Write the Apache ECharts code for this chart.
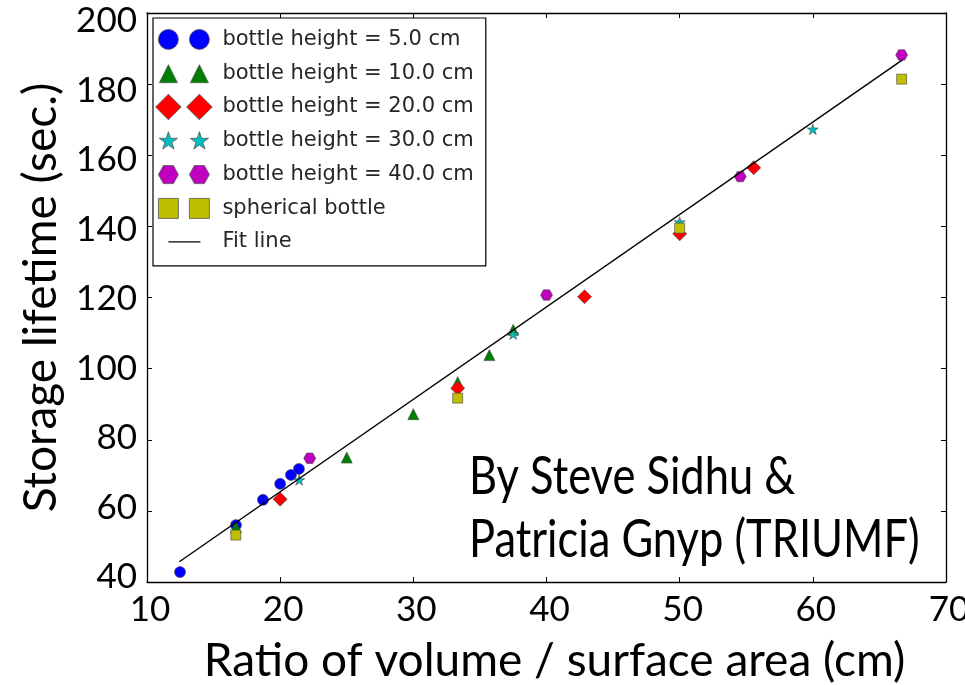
<!DOCTYPE html>
<html>
<head>
<meta charset="utf-8">
<script src="https://cdn.jsdelivr.net/npm/echarts@6/dist/echarts.min.js"></script>
<style>
  html, body { margin: 0; padding: 0; background: #fff; }
  #chart { width: 965px; height: 685px; }
</style>
</head>
<body>
<div id="chart"></div>
<script>
// Axis ranges and ticks
const xMin = 10, xMax = 70, xStep = 10;
const yMin = 40, yMax = 200, yStep = 20;
const yTickLabels = [40, 60, 80, 100, 120, 140, 160, 180, 200];
// The y tick labels were set a little tighter than the tick marks
const yLabelMin = 38.56, yLabelMax = 202.3;

// Measured storage lifetimes [ratio V/A (cm), lifetime (s)]
const height5cm  = [[12.48, 42.8], [16.68, 56.0], [18.71, 63.1], [20.0, 67.6], [20.81, 70.1], [21.41, 71.8]];
const height10cm = [[16.68, 55.4], [25.0, 75.0], [30.0, 87.2], [33.33, 96.2], [35.71, 103.8], [37.5, 110.9]];
const height20cm = [[20.0, 63.3], [33.33, 94.5], [42.86, 120.2], [50.0, 137.9], [55.56, 156.5]];
const height30cm = [[21.43, 68.7], [37.5, 109.7], [50.0, 141.2], [60.0, 167.3]];
const height40cm = [[22.22, 74.8], [40.0, 120.7], [54.55, 154.0], [66.67, 188.2]];
const spherical  = [[16.67, 53.2], [33.33, 91.7], [50.0, 139.5], [66.67, 181.4]];
// Linear fit end points
const fitLine = [[12.43, 45.7], [66.73, 186.8]];

const seriesNames = [
  'bottle height = 5.0 cm',
  'bottle height = 10.0 cm',
  'bottle height = 20.0 cm',
  'bottle height = 30.0 cm',
  'bottle height = 40.0 cm',
  'spherical bottle',
  'Fit line'
];

// Unit marker outlines (centred on 0,0)
const starPts = (function () {
  const pts = [];
  for (let i = 0; i < 10; i++) {
    const r = i % 2 === 0 ? 1 : 0.381966;
    const a = (-90 + i * 36) * Math.PI / 180;
    pts.push([r * Math.cos(a), r * Math.sin(a)]);
  }
  return pts;
})();
const shapes = {
  triangle: [[0, -1], [1, 1], [-1, 1]],
  diamond: [[0, -1], [1, 0], [0, 1], [-1, 0]],
  square: [[-1, -1], [1, -1], [1, 1], [-1, 1]],
  hexagon: [[-1, 0], [-0.5, -0.866], [0.5, -0.866], [1, 0], [0.5, 0.866], [-0.5, 0.866]],
  star: starPts
};
function poly(pts, cx, cy, sx, sy) {
  return 'M' + pts.map(p => (cx + p[0] * sx).toFixed(2) + ',' + (cy + p[1] * sy).toFixed(2)).join(' L') + ' Z ';
}
function circ(cx, cy, r) {
  return 'M' + (cx - r) + ',' + cy + ' A' + r + ',' + r + ' 0 1,0 ' + (cx + r) + ',' + cy +
         ' A' + r + ',' + r + ' 0 1,0 ' + (cx - r) + ',' + cy + ' Z ';
}
// Legend icons show the marker twice, inside a fixed 62x26 box
const IW = 62, IH = 26, C1 = 13, C2 = 44, CY = 13;
function pair(fn) { return 'path://M0,0 M' + IW + ',' + IH + ' ' + fn(C1) + fn(C2); }
const legendIcons = [
  pair(c => circ(c, CY, 10)),
  pair(c => poly(shapes.triangle, c, CY + 0.5, 9, 9)),
  pair(c => poly(shapes.diamond, c, CY, 12.8, 12.8)),
  pair(c => poly(shapes.star, c, CY + 0.5, 9.6, 9.6)),
  pair(c => poly(shapes.hexagon, c, CY, 10, 10.4)),
  pair(c => poly(shapes.square, c, CY, 10, 10)),
  'path://M0,0 M' + IW + ',' + IH + ' M13,12.35 L45,12.35 L45,13.65 L13,13.65 Z'
];

const colors = ['#0000ff', '#008000', '#ff0000', '#00bfbf', '#bf00bf', '#bfbf00', '#000000'];
const datasets = [height5cm, height10cm, height20cm, height30cm, height40cm, spherical];
const markerSymbols = [
  'circle',
  'path://' + poly(shapes.triangle, 0, 0, 1, 1),
  'path://' + poly(shapes.diamond, 0, 0, 1, 1),
  'path://' + poly(shapes.star, 0, 0, 1, 1),
  'path://' + poly(shapes.hexagon, 0, 0, 1, 1),
  'path://' + poly(shapes.square, 0, 0, 1, 1)
];
const markerSizes = [11, [11, 11], [14, 14], [11, 10.5], [12, 10.4], [10, 10]];

const labelFont = 'Lato, "Open Sans", sans-serif';

const frameLine = { show: true, onZero: false, lineStyle: { color: '#000', width: 1.3 } };
const innerTick = { show: true, inside: true, length: 5, lineStyle: { color: '#000', width: 1 } };

const series = datasets.map((d, i) => ({
  name: seriesNames[i],
  type: 'scatter',
  data: d,
  symbol: markerSymbols[i],
  symbolSize: markerSizes[i],
  itemStyle: { color: colors[i], borderColor: '#444', borderWidth: 0.6, opacity: 1 },
  z: 3
}));
series.push({
  name: seriesNames[6],
  type: 'line',
  data: fitLine,
  symbol: 'none',
  itemStyle: { color: '#000' },
  lineStyle: { color: '#000', width: 1.4 },
  z: 4
});

const chart = echarts.init(document.getElementById('chart'), null, { renderer: 'canvas' });
chart.setOption({
  animation: false,
  backgroundColor: '#fff',
  grid: { left: 147, right: 19, top: 13, bottom: 103, outerBoundsMode: 'none' },
  legend: {
    orient: 'vertical',
    left: 153,
    top: 18,
    padding: [8, 12, 11, 2],
    itemWidth: IW,
    itemHeight: IH,
    itemGap: 7,
    backgroundColor: '#fff',
    borderColor: '#000',
    borderWidth: 1.2,
    textStyle: { fontFamily: '"DejaVu Sans", sans-serif', fontSize: 21, color: '#262626', lineHeight: 26 },
    data: seriesNames.map((n, i) => ({
      name: n,
      icon: legendIcons[i],
      itemStyle: i < 6
        ? { color: colors[i], borderColor: '#555', borderWidth: 0.8 }
        : { color: '#000', borderWidth: 0 }
    }))
  },
  xAxis: [
    {
      type: 'value', min: xMin, max: xMax, interval: xStep, position: 'bottom',
      axisLine: frameLine, axisTick: innerTick, splitLine: { show: false },
      axisLabel: { fontFamily: labelFont, fontSize: 35, color: '#000', margin: 10, padding: [0, 0, 0, 6] },
      name: 'Ratio of volume / surface area (cm)', nameLocation: 'middle', nameGap: 56,
      nameTextStyle: { fontFamily: labelFont, fontSize: 46, color: '#000', padding: [0, 0, 0, 16] }
    },
    {
      type: 'value', min: xMin, max: xMax, interval: xStep, position: 'top',
      axisLine: frameLine, axisTick: innerTick, splitLine: { show: false }, axisLabel: { show: false }
    }
  ],
  yAxis: [
    {
      type: 'value', min: yMin, max: yMax, interval: yStep, position: 'left',
      axisLine: frameLine, axisTick: innerTick, splitLine: { show: false },
      axisLabel: { show: false },
      name: 'Storage lifetime (sec.)', nameLocation: 'middle', nameGap: 83,
      nameTextStyle: { fontFamily: labelFont, fontSize: 46, color: '#000' }
    },
    {
      type: 'value', min: yMin, max: yMax, interval: yStep, position: 'right',
      axisLine: frameLine, axisTick: innerTick, splitLine: { show: false }, axisLabel: { show: false }
    },
    {
      // label-only axis for the tick numbers
      type: 'value', min: yLabelMin, max: yLabelMax, position: 'left',
      axisLine: { show: false }, axisTick: { show: false }, splitLine: { show: false },
      axisLabel: { customValues: yTickLabels, fontFamily: labelFont, fontSize: 35, color: '#000', margin: 10 }
    }
  ],
  graphic: [
    {
      type: 'text', left: 469, top: 445, scaleX: 0.82,
      style: {
        text: 'By Steve Sidhu &\nPatricia Gnyp (TRIUMF)',
        font: '53px Lato, "Open Sans", sans-serif',
        fill: '#000',
        lineHeight: 63
      },
      z: 10
    }
  ],
  series: series
});
</script>
</body>
</html>
